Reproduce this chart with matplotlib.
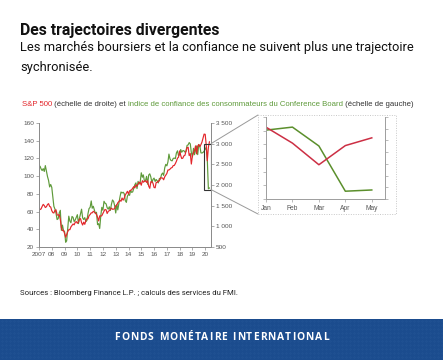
# -*- coding: utf-8 -*-
# Confiance des consommateurs vs S&P 500, avec zoom sur janvier-mai 2020
import numpy as np
import pandas as pd
import matplotlib
matplotlib.use('Agg')
import matplotlib.pyplot as plt
import matplotlib.dates as mdates
from matplotlib.patches import Rectangle, ConnectionPatch

# Indice de confiance du Conference Board (mensuel, janv. 2007 - mai 2020)
confiance = [
    110.2, 111.2, 108.2, 106.3, 108.5, 105.3, 111.9, 105.6, 99.5, 95.2, 87.8, 90.6,
    87.3, 76.4, 65.9, 62.8, 58.1, 51.0, 51.9, 58.5, 61.4, 38.8, 44.7, 38.6,
    37.4, 25.3, 26.9, 40.8, 54.8, 49.3, 47.4, 54.5, 53.4, 48.7, 50.6, 53.6,
    56.5, 46.4, 52.3, 57.7, 62.7, 52.9, 51.0, 53.2, 48.6, 49.9, 57.8, 63.4,
    64.8, 72.0, 63.8, 66.0, 61.7, 57.6, 59.2, 45.2, 46.4, 40.9, 55.2, 64.8,
    61.5, 71.6, 69.5, 68.7, 64.4, 62.7, 65.4, 61.3, 68.4, 73.1, 71.5, 66.7,
    58.4, 68.0, 61.9, 69.0, 76.2, 82.1, 81.0, 81.8, 80.2, 72.4, 70.4, 77.5,
    79.4, 78.3, 83.9, 81.7, 82.2, 86.4, 90.3, 92.4, 86.0, 94.1, 91.0, 93.1,
    103.8, 98.8, 101.4, 94.3, 94.6, 99.8, 90.9, 101.3, 102.6, 99.1, 92.6, 96.3,
    97.8, 94.0, 96.2, 94.7, 92.4, 97.4, 96.7, 101.8, 103.5, 100.8, 109.4, 113.3,
    111.6, 116.1, 124.9, 119.4, 117.6, 117.3, 120.0, 120.4, 119.8, 126.2, 128.6, 123.1,
    124.3, 130.0, 127.0, 128.7, 128.8, 127.1, 127.9, 134.7, 135.3, 137.9, 136.4, 126.6,
    121.7, 131.4, 124.2, 129.2, 134.1, 124.3, 135.7, 134.2, 126.3, 126.1, 126.8, 128.2,
    130.4, 132.6, 118.8, 85.7, 86.6,
]

# S&P 500 (fin de mois)
sp500 = [
    1438, 1407, 1421, 1482, 1531, 1503, 1455, 1474, 1527, 1549, 1481, 1468,
    1379, 1331, 1323, 1386, 1400, 1280, 1267, 1283, 1166, 969, 896, 903,
    826, 735, 798, 873, 919, 919, 987, 1021, 1057, 1036, 1096, 1115,
    1074, 1104, 1169, 1187, 1089, 1031, 1102, 1049, 1141, 1183, 1181, 1258,
    1286, 1327, 1326, 1364, 1345, 1321, 1292, 1219, 1131, 1253, 1247, 1258,
    1312, 1366, 1408, 1398, 1310, 1362, 1379, 1407, 1441, 1412, 1416, 1426,
    1498, 1515, 1569, 1598, 1631, 1606, 1686, 1633, 1682, 1757, 1806, 1848,
    1783, 1859, 1872, 1884, 1924, 1960, 1931, 2003, 1972, 2018, 2068, 2059,
    1995, 2105, 2068, 2086, 2107, 2063, 2104, 1972, 1920, 2079, 2080, 2044,
    1940, 1932, 2060, 2065, 2097, 2099, 2174, 2171, 2168, 2126, 2199, 2239,
    2279, 2364, 2363, 2384, 2412, 2423, 2470, 2472, 2519, 2575, 2648, 2674,
    2824, 2714, 2641, 2648, 2705, 2718, 2816, 2902, 2914, 2712, 2760, 2507,
    2704, 2784, 2834, 2946, 2752, 2942, 2980, 2926, 2977, 3038, 3141, 3231,
    3226, 2954, 2585, 2912, 3044,
]

annees = list(range(2007, 2021))
etiquettes_annees = ['2007'] + ['%02d' % (a % 100) for a in annees[1:]]

mois_zoom = ['Jan', 'Feb', 'Mar', 'Apr', 'May']
confiance_zoom = [130.4, 132.6, 118.8, 85.7, 86.6]
sp500_zoom = [3226, 2954, 2585, 2912, 3044]

dates = pd.date_range('2007-01-01', periods=len(confiance), freq='MS')

ROUGE = '#e3262b'
VERT = '#5e9a3a'
GRIS = '#8c8c8c'
TXT = '#555555'

W, H = 443, 360
fig = plt.figure(figsize=(W / 100, H / 100), dpi=100)
fig.patch.set_facecolor('white')
renderer = fig.canvas.get_renderer()


def fx(px):
    return px / W


def fy(py):
    return 1 - py / H


# --- titres ---
fig.text(fx(20), fy(31), 'Des trajectoires divergentes', family='Roboto',
         weight='bold', fontsize=11.3, va='center', ha='left', color='#111111')
fig.text(fx(20), fy(47), 'Les marchés boursiers et la confiance ne suivent plus une trajectoire',
         family='Roboto', fontsize=9.3, va='center', ha='left', color='#111111')
fig.text(fx(20), fy(67), 'sychronisée.', family='Roboto', fontsize=9.3,
         va='center', ha='left', color='#111111')

# --- légende en couleurs, morceau par morceau ---
morceaux = [('S&P 500', ROUGE), (' (échelle de droite) et ', '#333333'),
            ('indice de confiance des consommateurs du Conference Board', VERT),
            (' (échelle de gauche)', '#333333')]
x0 = fx(22)
for txt, col in morceaux:
    t = fig.text(x0, fy(104), txt, family='Liberation Sans', fontsize=5.62,
                 color=col, va='center', ha='left')
    bb = t.get_window_extent(renderer=renderer)
    x0 += bb.width / W

# --- graphique principal ---
ax = fig.add_axes([fx(39), fy(247), fx(211) - fx(39), fy(123) - fy(247)])
ax2 = ax.twinx()

ax.plot(dates, confiance, color=VERT, lw=0.85)
ax2.plot(dates, sp500, color=ROUGE, lw=0.85)

ax.set_ylim(20, 160)
ax.set_yticks(range(20, 161, 20))
ax2.set_ylim(500, 3500)
ax2.set_yticks(range(500, 3501, 500))
ax2.set_yticklabels([('%d' % v) if v < 1000 else '%d %03d' % (v // 1000, v % 1000)
                     for v in range(500, 3501, 500)])

ax.set_xlim(pd.Timestamp('2007-01-01'), pd.Timestamp('2020-06-15'))
ax.set_xticks([pd.Timestamp('%d-01-01' % a) for a in annees])
ax.set_xticklabels(etiquettes_annees)

for a in (ax, ax2):
    a.spines['top'].set_visible(False)
    for s in ('left', 'right', 'bottom'):
        a.spines[s].set_color(GRIS)
        a.spines[s].set_linewidth(0.7)
    a.tick_params(labelsize=4.6, colors=GRIS, labelcolor=TXT, length=2, width=0.5, pad=1.5)
    for lab in a.get_xticklabels() + a.get_yticklabels():
        lab.set_family('Liberation Sans')
ax.patch.set_visible(False)

# cadre de la période zoomée
x_g = mdates.date2num(pd.Timestamp('2019-11-20'))
x_d = mdates.date2num(pd.Timestamp('2020-06-15'))
ax2.add_patch(Rectangle((x_g, 1890), x_d - x_g, 3000 - 1890, fill=False,
                        edgecolor='#333333', lw=0.8, zorder=5))

# --- encadré pointillé du zoom ---
cadre = Rectangle((fx(258), fy(214)), fx(396) - fx(258), fy(115) - fy(214),
                  transform=fig.transFigure, fill=False, edgecolor='#c8c8c8',
                  lw=0.7, ls=(0, (1, 1.5)))
fig.add_artist(cadre)

for yb, yf in ((3000, 115), (1890, 214)):
    con = ConnectionPatch(xyA=(x_d, yb), coordsA=ax2.transData,
                          xyB=(fx(258), fy(yf)), coordsB=fig.transFigure,
                          color='#999999', lw=0.7)
    fig.add_artist(con)

# --- graphique agrandi ---
axi = fig.add_axes([fx(266), fy(199), fx(385) - fx(266), fy(117) - fy(199)])
axi2 = axi.twinx()
xs = np.arange(len(mois_zoom))
axi.plot(xs, confiance_zoom, color='#5b8f2c', lw=1.1)
axi2.plot(xs, sp500_zoom, color='#cc2f44', lw=1.1)
axi.set_xlim(0, 4.5)
axi.set_ylim(80, 140)
axi.set_yticks(range(80, 141, 10))
axi2.set_ylim(2000, 3400)
axi2.set_yticks(range(2000, 3401, 200))
axi.set_xticks(xs)
axi.set_xticklabels(mois_zoom)
axi.set_yticklabels([])
axi2.set_yticklabels([])
for a in (axi, axi2):
    a.spines['top'].set_visible(False)
    for s in ('left', 'right', 'bottom'):
        a.spines[s].set_color('#a0a0a0')
        a.spines[s].set_linewidth(0.7)
    a.tick_params(labelsize=4.8, colors='#a0a0a0', labelcolor=TXT, length=2,
                  width=0.5, pad=2.5)
    for lab in a.get_xticklabels():
        lab.set_family('Liberation Sans')
axi.patch.set_visible(False)

# --- sources ---
fig.text(fx(20), fy(293), 'Sources : Bloomberg Finance L.P. ; calculs des services du FMI.',
         family='Roboto', fontsize=5.6, color='#222222', va='center', ha='left')

# --- bandeau FMI ---
fig.add_artist(Rectangle((0, 0), 1, fy(319), transform=fig.transFigure,
                         facecolor='#1b4c8e', edgecolor='none'))
# petite trame de points, discrète
gx, gy = np.meshgrid(np.arange(2, W, 4), np.arange(321, H, 4))
fig.add_artist(plt.Line2D(fx(gx.ravel()), fy(gy.ravel()), transform=fig.transFigure,
                          ls='none', marker='.', ms=0.5, color='#3a6cab', alpha=0.45))

# texte espacé lettre par lettre
banniere = 'FONDS MONÉTAIRE INTERNATIONAL'
props = dict(family='Open Sans', weight='bold', fontsize=7.4, color='white',
             va='center', ha='left')
largeurs = []
for c in banniere:
    t = fig.text(0, 0, c if c != ' ' else 'i', **props)
    largeurs.append(t.get_window_extent(renderer=renderer).width)
    t.remove()
espace = 1.0
total = sum(largeurs) + espace * (len(banniere) - 1)
xc = (W - total) / 2
for c, w in zip(banniere, largeurs):
    if c != ' ':
        fig.text(fx(xc), fy(338), c, **props)
    xc += w + espace

fig.savefig('out.png', dpi=100, facecolor='white')
